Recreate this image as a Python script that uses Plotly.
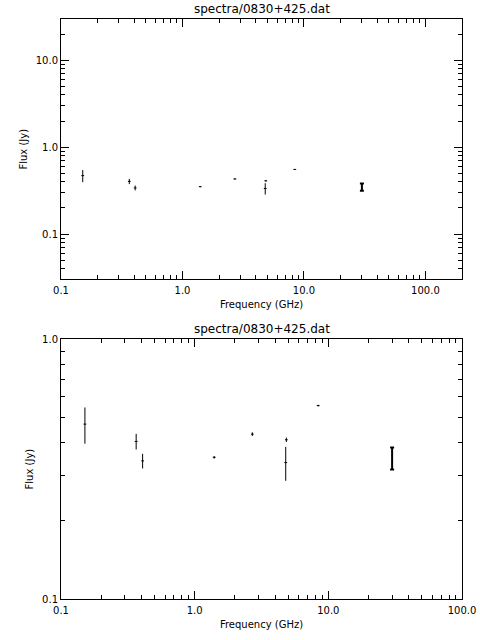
import math
import plotly.graph_objects as go

# Data
freq_ghz = [0.151, 0.365, 0.408, 1.40, 2.70, 4.85, 4.80, 8.40, 30.0]
flux_jy = [0.471, 0.404, 0.340, 0.351, 0.431, 0.410, 0.335, 0.555, 0.349]
flux_err = [0.075, 0.028, 0.022, 0.004, 0.007, 0.008, 0.050, 0.004, 0.034]

title_text = "spectra/0830+425.dat"
x_title = "Frequency (GHz)"
y_title = "Flux (Jy)"

x_major = [0.1, 1, 10, 100]
x_major_text = ["0.1", "1.0", "10.0", "100.0"]
y_major_top = [0.1, 1, 10]
y_major_top_text = ["0.1", "1.0", "10.0"]
y_major_bot = [0.1, 1]
y_major_bot_text = ["0.1", "1.0"]


def minors(lo_dec, hi_dec, vmin, vmax):
    out = []
    for d in range(lo_dec, hi_dec + 1):
        for m in range(2, 10):
            v = m * 10.0 ** d
            if vmin < v < vmax:
                out.append(v)
    return out


FONT = "DejaVu Sans"
fig = go.Figure()

n_thin = len(freq_ghz) - 1
for xa, ya in (("x", "y"), ("x2", "y2")):
    fig.add_trace(go.Scatter(
        x=freq_ghz[:n_thin], y=flux_jy[:n_thin], mode="markers",
        marker=dict(symbol="line-ew", size=2, color="black",
                    line=dict(color="black", width=1)),
        error_y=dict(type="data", array=flux_err[:n_thin], visible=True,
                     color="black", thickness=1, width=0),
        xaxis=xa, yaxis=ya, showlegend=False, cliponaxis=False))
    fig.add_trace(go.Scatter(
        x=freq_ghz[n_thin:], y=flux_jy[n_thin:], mode="markers",
        marker=dict(symbol="line-ew", size=1, color="black",
                    line=dict(color="black", width=0)),
        error_y=dict(type="data", array=flux_err[n_thin:], visible=True,
                     color="black", thickness=2, width=2),
        xaxis=xa, yaxis=ya, showlegend=False))

axis_common = dict(
    type="log", showgrid=False, zeroline=False, showline=True,
    linecolor="black", linewidth=1, mirror="ticks", automargin=False,
    ticks="inside", ticklen=8, tickwidth=1, tickcolor="black",
    tickfont=dict(family=FONT, size=10, color="black"),
    tickmode="array",
)
minor_common = dict(tickmode="array", ticks="inside", ticklen=4,
                    tickcolor="black", showgrid=False)
tfont = dict(family=FONT, size=10, color="black")

fig.update_layout(
    width=480, height=640,
    margin=dict(l=61, r=18, t=19, b=41, autoexpand=False),
    paper_bgcolor="white", plot_bgcolor="white",
    xaxis=dict(axis_common, domain=[0, 1], anchor="y",
               range=[math.log10(0.1), math.log10(200)],
               tickvals=x_major, ticktext=x_major_text, ticklabelstandoff=2,
               minor=dict(minor_common, tickvals=minors(-1, 2, 0.1, 200)),
               title=dict(text=x_title, font=tfont, standoff=5)),
    yaxis=dict(axis_common, domain=[0.551, 1], anchor="x",
               range=[math.log10(0.03), math.log10(30)],
               tickvals=y_major_top, ticktext=y_major_top_text,
               minor=dict(minor_common, tickvals=minors(-2, 1, 0.03, 30)),
               title=dict(text=y_title, font=tfont, standoff=6)),
    xaxis2=dict(axis_common, domain=[0, 1], anchor="y2",
                range=[math.log10(0.1), math.log10(100)],
                tickvals=x_major, ticktext=x_major_text, ticklabelstandoff=2,
                minor=dict(minor_common, tickvals=minors(-1, 1, 0.1, 100)),
                title=dict(text=x_title, font=tfont, standoff=5)),
    yaxis2=dict(axis_common, domain=[0, 0.448], anchor="x2",
                range=[math.log10(0.1), math.log10(1)],
                tickvals=y_major_bot, ticktext=y_major_bot_text,
                minor=dict(minor_common, tickvals=minors(-1, -1, 0.1, 1)),
                title=dict(text=y_title, font=tfont, standoff=6)),
    annotations=[
        dict(text=title_text, xref="paper", yref="paper", x=0.5, y=1.0,
             yanchor="bottom", xanchor="center", showarrow=False, yshift=1,
             font=dict(family=FONT, size=12, color="black")),
        dict(text=title_text, xref="paper", yref="paper", x=0.5, y=0.448,
             yanchor="bottom", xanchor="center", showarrow=False, yshift=1,
             font=dict(family=FONT, size=12, color="black")),
    ],
)

# remove the browser's default 8px body margin so the figure fills the window
fig.write_html("out.html",
               config={"displayModeBar": False, "staticPlot": True},
               post_script="document.body.style.margin='0px';")
